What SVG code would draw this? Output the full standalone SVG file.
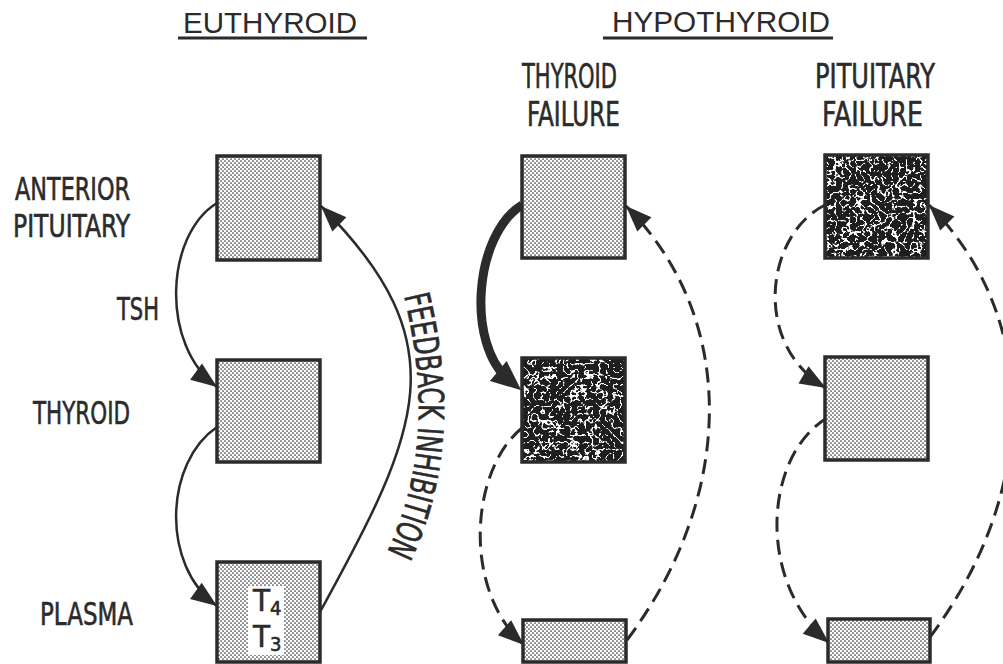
<svg xmlns="http://www.w3.org/2000/svg" width="1003" height="664" viewBox="0 0 1003 664">
<style>
.lbl{font-family:"Liberation Sans Narrow","DejaVu Sans Condensed","Liberation Sans",sans-serif;fill:#2b2b2b;stroke:#2b2b2b;stroke-width:0.6;}
.ttl{font-family:"Liberation Sans","DejaVu Sans",sans-serif;fill:#2b2b2b;}
.box{stroke:#2b2b2b;stroke-width:3.5;}
.lt{fill:url(#dots);}
.dk{fill:#1e1e1e;}
.edge{fill:none;stroke:#2b2b2b;stroke-width:2.5;}
.dash{stroke-width:3;stroke-dasharray:15 8;}
.thick{stroke-width:9;}
.ul{stroke:#2b2b2b;stroke-width:3;}
</style>
<defs>
<pattern id="dots" width="4" height="4" patternUnits="userSpaceOnUse">
<rect width="4" height="4" fill="#ffffff"/>
<circle cx="1" cy="1" r="0.85" fill="#333"/>
<circle cx="3" cy="3" r="0.85" fill="#333"/>
</pattern>
<filter id="crackle" x="0" y="0" width="100%" height="100%" color-interpolation-filters="sRGB">
<feTurbulence type="turbulence" baseFrequency="0.14" numOctaves="2" seed="7" result="n"/>
<feColorMatrix in="n" type="matrix" values="0 0 0 0 1  0 0 0 0 1  0 0 0 0 1  -16 0 0 0 2.6" result="w"/>
<feMerge><feMergeNode in="SourceGraphic"/><feMergeNode in="w"/></feMerge>
</filter>
<marker id="ah" markerUnits="userSpaceOnUse" markerWidth="26" markerHeight="20" refX="26" refY="10" orient="auto" overflow="visible">
<path d="M0,0 L26,10 L0,20 z" fill="#2b2b2b"/>
</marker>
<marker id="ahT" markerUnits="userSpaceOnUse" markerWidth="30" markerHeight="26" refX="14" refY="13" orient="auto" overflow="visible">
<path d="M0,0 L30,13 L0,26 z" fill="#2b2b2b"/>
</marker>
<path id="fbpath" d="M403,292 C425,380 428,470 384,558"/>
</defs>
<rect width="1003" height="664" fill="#ffffff"/>

<g id="titles">
<text class="ttl" x="183" y="33" font-size="29" textLength="174" lengthAdjust="spacingAndGlyphs">EUTHYROID</text>
<line class="ul" x1="178" y1="38" x2="367" y2="38"/>
<text class="ttl" x="612" y="32" font-size="30" textLength="218" lengthAdjust="spacingAndGlyphs">HYPOTHYROID</text>
<line class="ul" x1="603" y1="38" x2="833" y2="38"/>
<text class="lbl" x="522" y="88" font-size="34" textLength="95" lengthAdjust="spacingAndGlyphs">THYROID</text>
<text class="lbl" x="527" y="126" font-size="34" textLength="93" lengthAdjust="spacingAndGlyphs">FAILURE</text>
<text class="lbl" x="815" y="88" font-size="34" textLength="120" lengthAdjust="spacingAndGlyphs">PITUITARY</text>
<text class="lbl" x="822" y="126" font-size="34" textLength="101" lengthAdjust="spacingAndGlyphs">FAILURE</text>
</g>

<g id="row-labels">
<text class="lbl" x="15" y="200" font-size="32" textLength="115" lengthAdjust="spacingAndGlyphs">ANTERIOR</text>
<text class="lbl" x="13" y="237" font-size="32" textLength="117" lengthAdjust="spacingAndGlyphs">PITUITARY</text>
<text class="lbl" x="33" y="424" font-size="32" textLength="97" lengthAdjust="spacingAndGlyphs">THYROID</text>
<text class="lbl" x="40" y="625" font-size="32" textLength="93" lengthAdjust="spacingAndGlyphs">PLASMA</text>
</g>

<g id="connectors">
<path class="edge" d="M217,203 C165,235 160,345 217,387" marker-end="url(#ah)"/>
<path class="edge" d="M217,427 C165,462 160,565 217,606" marker-end="url(#ah)"/>
<path class="edge" d="M320,612 C420,430 460,345 321,206" marker-end="url(#ah)"/>
<path class="edge thick" d="M522,205 C474,235 466,344 509,380" marker-end="url(#ahT)"/>
<path class="edge dash" d="M522,428 C470,470 462,590 524,645" marker-end="url(#ah)"/>
<path class="edge dash" d="M627,640 C735,496 739,319 626,206" marker-end="url(#ah)"/>
<path class="edge dash" d="M825,205 C765,235 752,345 826,388" marker-end="url(#ah)"/>
<path class="edge dash" d="M827,418 C765,455 755,580 829,643" marker-end="url(#ah)"/>
<path class="edge dash" d="M930,637 C1038,493 1042,319 929,205" marker-end="url(#ah)"/>
<text class="lbl" font-size="35"><textPath href="#fbpath" startOffset="4" textLength="262" lengthAdjust="spacingAndGlyphs">FEEDBACK INHIBITION</textPath></text>
<text class="lbl" x="117" y="320" font-size="32" textLength="42" lengthAdjust="spacingAndGlyphs">TSH</text>
</g>

<g id="eu-pituitary"><rect class="box lt" x="217" y="156" width="103" height="104"/></g>
<g id="eu-thyroid"><rect class="box lt" x="217" y="360" width="103" height="102"/></g>
<g id="eu-plasma">
<rect class="box lt" x="217" y="562" width="103" height="100"/>
<rect x="248" y="586" width="36" height="69" fill="#ffffff"/>
<text class="lbl" x="253" y="611" font-size="31">T<tspan dy="4" font-size="20">4</tspan></text>
<text class="lbl" x="253" y="647" font-size="31">T<tspan dy="4" font-size="20">3</tspan></text>
</g>

<g id="tf-pituitary"><rect class="box lt" x="522" y="156" width="103" height="102"/></g>
<g id="tf-thyroid">
<rect class="dk" x="522" y="358" width="103" height="104" filter="url(#crackle)"/>
<rect class="box" x="522" y="358" width="103" height="104" fill="none"/>
</g>
<g id="tf-plasma"><rect class="box lt" x="523" y="620" width="103" height="42"/></g>

<g id="pf-pituitary">
<rect class="dk" x="825" y="155" width="103" height="103" filter="url(#crackle)"/>
<rect class="box" x="825" y="155" width="103" height="103" fill="none"/>
</g>
<g id="pf-thyroid"><rect class="box lt" x="825" y="357" width="103" height="103"/></g>
<g id="pf-plasma"><rect class="box lt" x="828" y="619" width="102" height="43"/></g>
</svg>
